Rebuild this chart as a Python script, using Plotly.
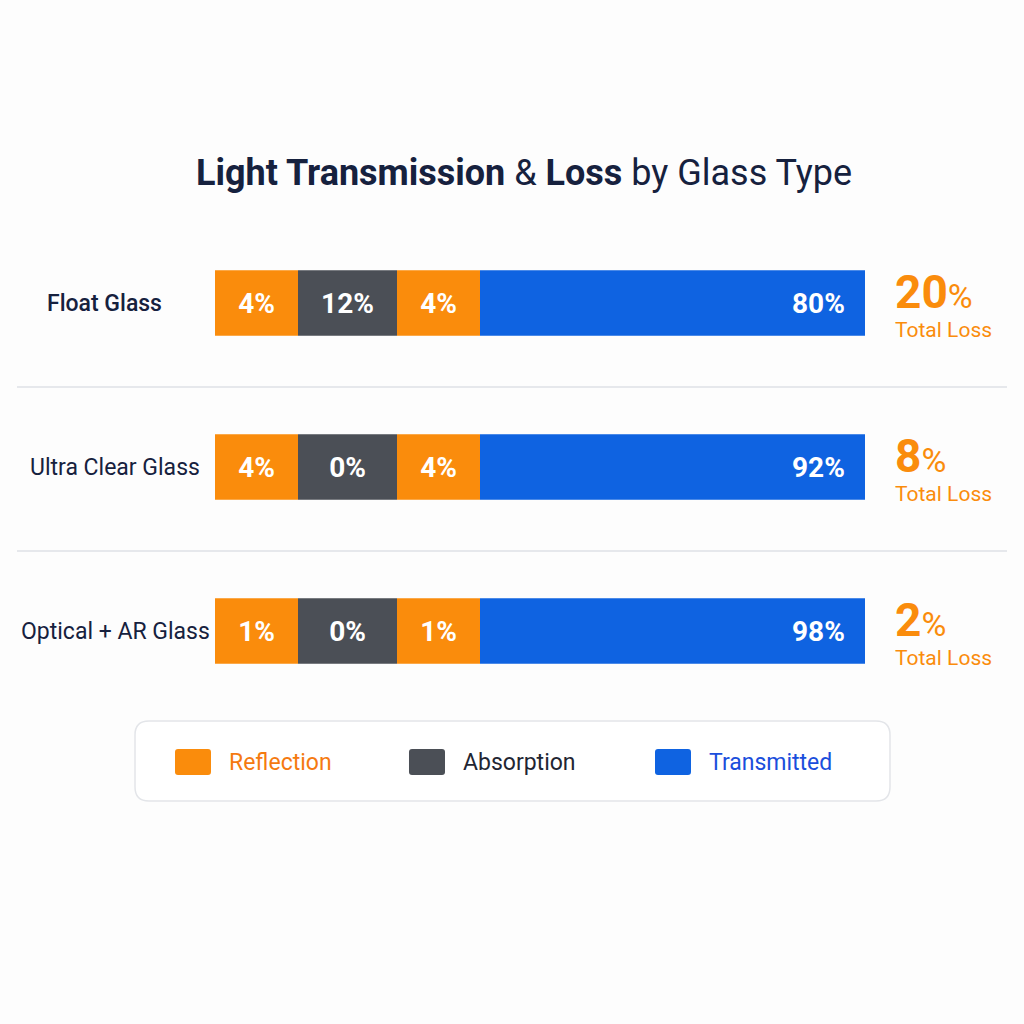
import plotly.graph_objects as go

# data
glass_types = ["Float Glass", "Ultra Clear Glass", "Optical + AR Glass"]
reflection_front = [4, 4, 1]
absorption = [12, 0, 0]
reflection_back = [4, 4, 1]
transmitted = [80, 92, 98]
total_loss = [100 - t for t in transmitted]

legend_labels = ["Reflection", "Absorption", "Transmitted"]

# styling
ORANGE = "#FA8C0C"
GRAY = "#4B4F56"
BLUE = "#0F63E1"
NAVY = "#16213E"
FONT = "Roboto"
# fixed display slot of each segment (bar is a schematic, not to scale)
SLOTS = [83, 99, 83, 385]
W = H = 1024


def px(v):
    return v / W


def py(v):
    return 1 - v / H


segments = [
    (reflection_front, ORANGE),
    (absorption, GRAY),
    (reflection_back, ORANGE),
    (transmitted, BLUE),
]

fig = go.Figure()
base = 0
for i, (vals, col) in enumerate(segments):
    last = i == len(segments) - 1
    fig.add_trace(go.Bar(
        y=glass_types,
        x=[SLOTS[i]] * len(vals),
        base=[base] * len(vals),
        orientation="h",
        marker=dict(color=col, line=dict(width=0)),
        text=None if last else [f"{v}%" for v in vals],
        textposition="inside",
        insidetextanchor="middle",
        textfont=dict(family=FONT, size=28, color="white", weight="bold"),
        constraintext="none",
        width=0.40,
        showlegend=False,
        hoverinfo="skip",
    ))
    base += SLOTS[i]

annotations = []
bar_end = sum(SLOTS)
for k, (g, t, loss) in enumerate(zip(glass_types, transmitted, total_loss)):
    # transmitted label, right side of the blue segment
    annotations.append(dict(
        x=bar_end, y=g, xref="x", yref="y", xanchor="right", xshift=-18,
        yanchor="middle",
        text=f"<b>{t}%</b>", showarrow=False,
        font=dict(family=FONT, size=28, color="white"),
    ))
    # category label (first row drawn heavier in the original)
    annotations.append(dict(
        x=px(104 if k == 0 else 115), y=g, xref="paper", yref="y",
        xanchor="center", yanchor="middle",
        text=g, showarrow=False,
        font=dict(family=FONT, size=23, color=NAVY,
                  weight=500 if k == 0 else 400),
    ))
    # total loss
    annotations.append(dict(
        x=px(893), y=g, xref="paper", yref="y", xanchor="left",
        yanchor="middle", yshift=11,
        text=f"<b>{loss}</b><span style='font-size:34px'>%</span>",
        showarrow=False,
        font=dict(family=FONT, size=46, color=ORANGE),
    ))
    annotations.append(dict(
        x=px(893), y=g, xref="paper", yref="y", xanchor="left",
        yanchor="middle", yshift=-27,
        text="Total Loss", showarrow=False,
        font=dict(family=FONT, size=21, color=ORANGE),
    ))

annotations.append(dict(
    x=px(524), y=py(173), xref="paper", yref="paper",
    xanchor="center", yanchor="middle",
    text="<b>Light Transmission</b> & <b>Loss</b> by Glass Type",
    showarrow=False, font=dict(family=FONT, size=36, color=NAVY),
))

shapes = []
for yy in (387, 551):
    shapes.append(dict(type="line", xref="paper", yref="paper",
                       x0=px(17), x1=px(1007), y0=py(yy), y1=py(yy),
                       line=dict(color="#E6E8EC", width=2)))


def rounded_rect(x0, y0, x1, y1, r):
    # pixel coords (top-left origin) -> paper path
    X = lambda v: f"{px(v):.5f}"
    Y = lambda v: f"{py(v):.5f}"
    return (f"M {X(x0 + r)},{Y(y0)} L {X(x1 - r)},{Y(y0)} "
            f"Q {X(x1)},{Y(y0)} {X(x1)},{Y(y0 + r)} "
            f"L {X(x1)},{Y(y1 - r)} Q {X(x1)},{Y(y1)} {X(x1 - r)},{Y(y1)} "
            f"L {X(x0 + r)},{Y(y1)} Q {X(x0)},{Y(y1)} {X(x0)},{Y(y1 - r)} "
            f"L {X(x0)},{Y(y0 + r)} Q {X(x0)},{Y(y0)} {X(x0 + r)},{Y(y0)} Z")


shapes.append(dict(type="path", xref="paper", yref="paper",
                   path=rounded_rect(135, 721, 890, 801, 14),
                   fillcolor="white", line=dict(color="#E3E5E9", width=1.5),
                   layer="below"))

legend_items = [
    (legend_labels[0], ORANGE, "#F57A10", 175),
    (legend_labels[1], GRAY, "#1F2633", 409),
    (legend_labels[2], BLUE, "#1A4EDC", 655),
]
for label, col, tcol, lx in legend_items:
    shapes.append(dict(type="path", xref="paper", yref="paper",
                       path=rounded_rect(lx, 749, lx + 36, 775, 3),
                       fillcolor=col, line=dict(width=0)))
    annotations.append(dict(
        x=px(lx + 52), y=py(762), xref="paper", yref="paper",
        xanchor="left", yanchor="middle",
        text=label, showarrow=False,
        font=dict(family=FONT, size=23, color=tcol),
    ))

fig.update_layout(
    width=W, height=H,
    margin=dict(l=0, r=0, t=0, b=0),
    paper_bgcolor="#FDFDFD",
    plot_bgcolor="rgba(0,0,0,0)",
    barmode="overlay",
    xaxis=dict(domain=[px(215), px(865)], range=[0, bar_end],
               visible=False, fixedrange=True),
    yaxis=dict(domain=[py(713), py(221)], range=[2.5, -0.5],
               type="category", categoryorder="array", categoryarray=glass_types,
               visible=False, fixedrange=True),
    annotations=annotations,
    shapes=shapes,
    font=dict(family=FONT),
)

fig.write_html("out.html", config={"displayModeBar": False},
               post_script="document.body.style.margin='0';")
